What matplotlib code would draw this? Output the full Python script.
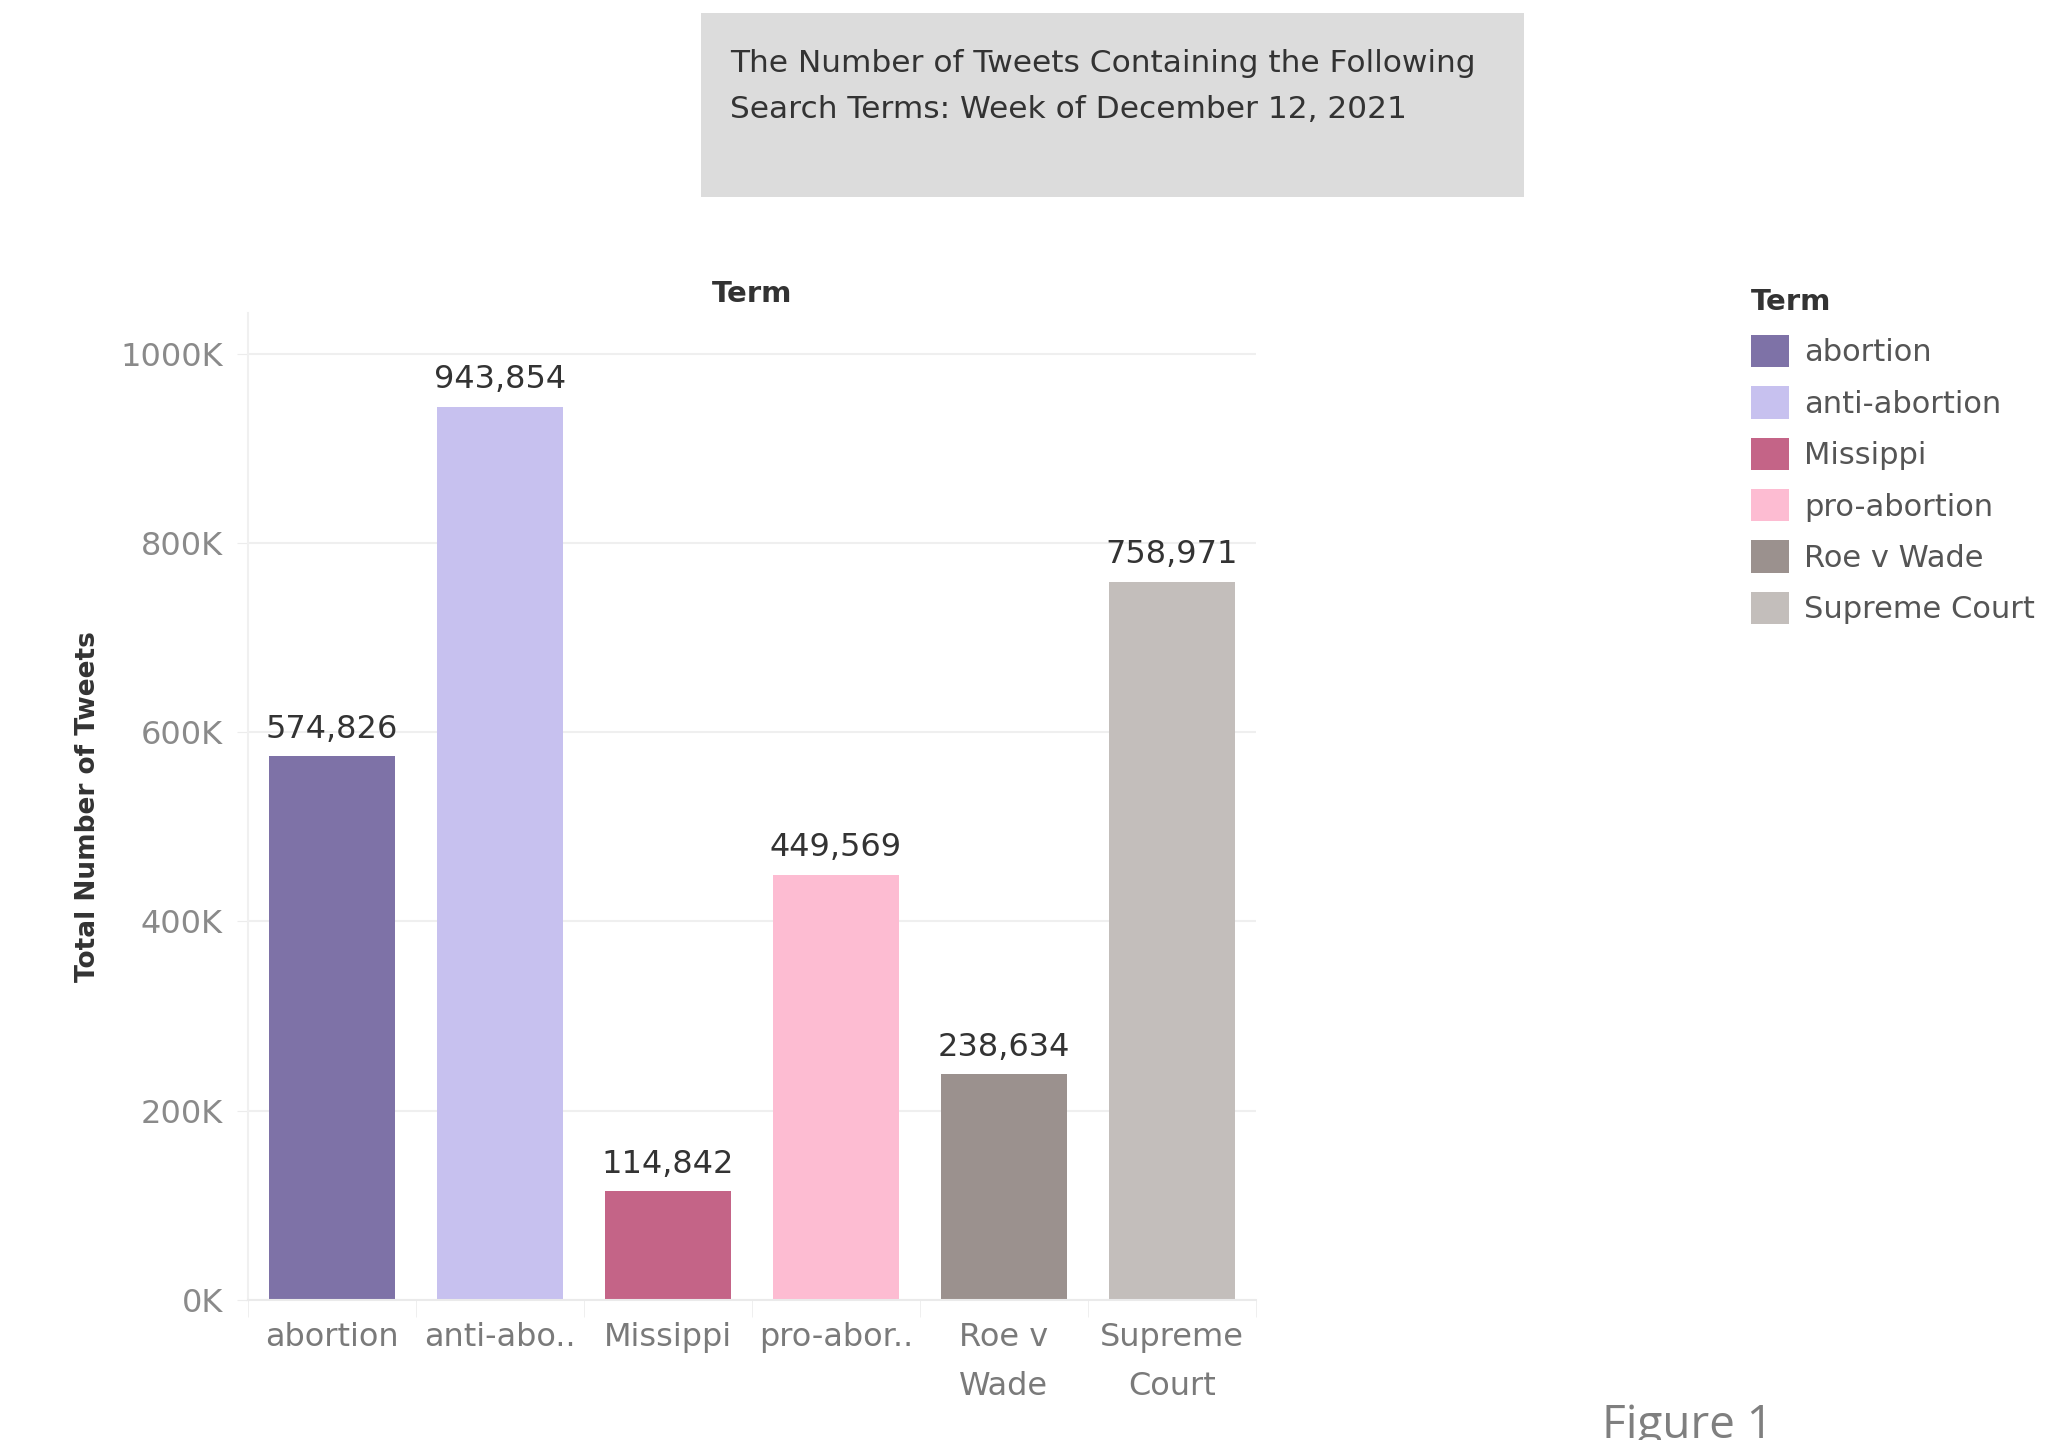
import numpy as np
import matplotlib
matplotlib.use("Agg")
import matplotlib.pyplot as plt
from matplotlib.patches import Rectangle

# данные
terms = ["abortion", "anti-abortion", "Missippi", "pro-abortion", "Roe v Wade", "Supreme Court"]
tick_labels = ["abortion", "anti-abo..", "Missippi", "pro-abor..", "Roe v\nWade", "Supreme\nCourt"]
tweets = [574826, 943854, 114842, 449569, 238634, 758971]
colors = ["#7e72a7", "#c7c1ef", "#c46487", "#fdbcd2", "#9b918e", "#c3bebb"]

yticks = [0, 200000, 400000, 600000, 800000, 1000000]

W, H = 2047, 1440
fig = plt.figure(figsize=(W / 100, H / 100), dpi=100)

# title box
fig.patches.append(Rectangle((701 / W, 1 - 197 / H), (1524 - 701) / W, (197 - 13) / H,
                             transform=fig.transFigure, facecolor="#dcdcdc",
                             edgecolor="none", zorder=0))
narrow = ["Liberation Sans Narrow", "DejaVu Sans"]
fig.text(730 / W, 1 - 63 / H, "The Number of Tweets Containing the Following",
         family=narrow, fontsize=22.5, color="#333333", va="center", ha="left")
fig.text(730 / W, 1 - 110 / H, "Search Terms: Week of December 12, 2021",
         family=narrow, fontsize=22.5, color="#333333", va="center", ha="left")

ax = fig.add_axes([248 / W, 1 - 1300 / H, (1256 - 248) / W, (1300 - 313) / H])
x = np.arange(len(terms))
bars = ax.bar(x, tweets, width=0.75, color=colors, zorder=2)

for xi, v in zip(x, tweets):
    ax.text(xi, v + 12000, "{:,}".format(v), ha="center", va="bottom",
            fontsize=23, color="#333333")

ax.set_xlim(-0.5, len(terms) - 0.5)
ax.set_ylim(0, 1.043e6)
ax.set_yticks(yticks)
ax.set_yticklabels(["{}K".format(t // 1000) for t in yticks])
ax.set_xticks(x)
ax.set_xticklabels(tick_labels, linespacing=1.75)
ax.set_xticks(np.arange(-0.5, len(terms)), minor=True)

ax.tick_params(axis="y", labelsize=23, labelcolor="#8a8a8a", color="#ececec", length=8, pad=10)
ax.tick_params(axis="x", which="major", labelsize=23, labelcolor="#7a7a7a", length=0, pad=16)
ax.tick_params(axis="x", which="minor", color="#ececec", length=12)

ax.grid(axis="y", color="#efefef", linewidth=1.5, zorder=0)
for s in ["top", "right"]:
    ax.spines[s].set_visible(False)
ax.spines["left"].set_color("#f0f0f0")
ax.spines["bottom"].set_color("#eaeaea")
ax.spines["left"].set_linewidth(1.5)
ax.spines["bottom"].set_linewidth(1.5)

ax.set_ylabel("Total Number of Tweets", family=narrow, fontsize=19, fontweight="semibold",
              color="#333333", labelpad=14)
ax.set_title("Term", fontsize=21, fontweight="semibold", color="#333333", pad=8)

leg = fig.legend(bars, terms, title="Term", loc="upper left",
                 bbox_to_anchor=(1751 / W, 1 - 288 / H), frameon=False,
                 fontsize=22, title_fontsize=21, handlelength=1.25, handleheight=1.25,
                 labelspacing=0.62, handletextpad=0.5, borderpad=0, borderaxespad=0)
leg._legend_box.align = "left"
for t in leg.get_texts():
    t.set_color("#555555")
leg.get_title().set_color("#333333")
leg.get_title().set_fontweight("semibold")

fig.text(1602 / W, 2 / H, "Figure 1", family=["Open Sans", "DejaVu Sans"],
         fontsize=33, color="#7f7f7f", va="baseline", ha="left")

fig.savefig("out.png", dpi=100)
